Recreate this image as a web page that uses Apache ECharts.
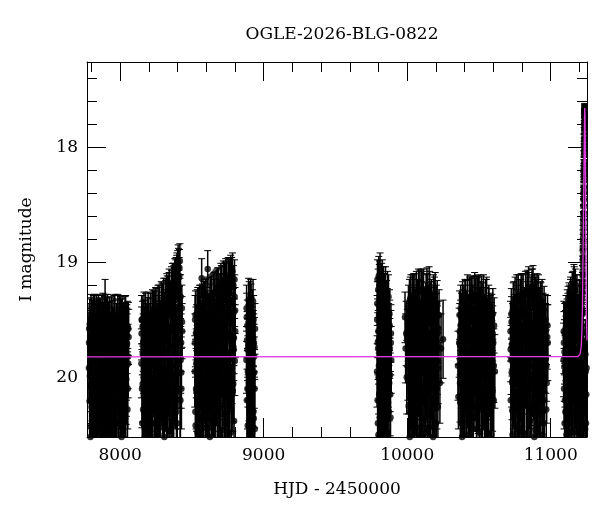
<!DOCTYPE html>
<html>
<head>
<meta charset="utf-8">
<script src="https://cdn.jsdelivr.net/npm/echarts@6/dist/echarts.min.js"></script>
<style>
  html, body { margin: 0; padding: 0; background: #fff; }
  #chart { width: 600px; height: 512px; }
</style>
</head>
<body>
<div id="chart"></div>
<script>
// Photometry, one array per observing season: [HJD-2450000, I mag, error]
const season1 = [
  [7782,19.92,0.30],[7787,20.21,0.38],[7791,19.64,0.24],[7795,20.43,0.42],[7799,19.78,0.27],[7804,20.05,0.33],
  [7808,19.55,0.22],[7812,20.32,0.40],[7817,19.86,0.29],[7821,20.58,0.45],[7826,19.70,0.25],[7830,20.12,0.35],
  [7835,19.50,0.21],[7839,19.95,0.31],[7844,20.38,0.41],[7848,19.61,0.23],[7853,20.02,0.32],[7857,19.83,0.28],
  [7862,20.49,0.44],[7866,19.58,0.22],[7871,20.18,0.37],[7875,19.74,0.26],[7880,19.47,0.20],[7884,20.27,0.39],
  [7889,19.90,0.30],[7893,20.62,0.46],[7895,19.46,0.31],[7898,19.66,0.24],[7902,20.08,0.34],[7907,19.52,0.21],
  [7911,19.98,0.31],[7916,20.35,0.41],[7920,19.73,0.26],[7925,20.15,0.36],[7929,19.56,0.22],[7934,20.45,0.43],
  [7938,19.88,0.29],[7943,19.62,0.23],[7947,20.24,0.38],[7952,19.80,0.28],[7956,20.55,0.45],[7961,19.53,0.21],
  [7965,20.04,0.33],[7970,19.69,0.25],[7974,20.30,0.40],[7979,19.94,0.30],[7983,19.59,0.23],[7988,20.40,0.42],
  [7992,19.76,0.27],[7997,20.10,0.35],[8001,19.51,0.21],[8006,19.85,0.29],[8010,20.52,0.44],[8015,19.67,0.24],
  [8019,20.20,0.37],[8024,19.57,0.22],[8028,19.97,0.31],[8033,20.36,0.41],[8037,19.72,0.26],[8042,20.07,0.34],
  [8046,19.60,0.23],[8051,20.28,0.39],[8055,19.82,0.28],[8059,19.65,0.24],
  [7784,19.58,0.22],[7789,19.99,0.31],[7793,20.52,0.44],[7797,19.49,0.21],[7801,20.26,0.38],[7806,19.81,0.28],
  [7810,20.64,0.46],[7814,19.63,0.24],[7819,20.09,0.34],[7823,19.48,0.20],[7828,20.40,0.42],[7832,19.77,0.27],
  [7837,20.18,0.37],[7841,19.54,0.22],[7846,20.57,0.45],[7850,19.89,0.30],[7855,19.52,0.21],[7859,20.30,0.39],
  [7864,19.71,0.26],[7868,20.00,0.32],[7873,19.50,0.21],[7877,20.46,0.43],[7882,19.84,0.29],[7886,19.60,0.23],
  [7891,20.14,0.36],[7900,19.49,0.21],[7904,20.34,0.40],[7909,19.79,0.27],[7913,20.60,0.46],[7918,19.57,0.22],
  [7922,19.96,0.31],[7927,20.42,0.42],[7931,19.68,0.25],[7936,20.06,0.33],[7940,19.51,0.21],[7945,20.50,0.44],
  [7949,19.87,0.29],[7954,19.63,0.23],[7958,20.22,0.37],[7963,19.48,0.20],[7967,20.38,0.41],[7972,19.75,0.27],
  [7976,20.03,0.32],[7981,19.55,0.22],[7985,20.63,0.46],[7990,19.92,0.30],[7994,19.50,0.21],[7999,20.25,0.38],
  [8003,19.70,0.26],[8008,20.13,0.35],[8012,19.53,0.21],[8017,20.44,0.43],[8021,19.81,0.28],[8026,19.62,0.23],
  [8030,20.18,0.37],[8035,19.52,0.22],[8039,20.56,0.45],[8044,19.90,0.30],[8048,19.71,0.26],[8053,20.10,0.35],
  [8057,19.58,0.23],
  [7783,19.70,0.26],[7788,19.54,0.22],[7792,20.08,0.34],[7796,19.66,0.24],[7800,19.52,0.21],[7805,20.30,0.39],
  [7809,19.74,0.26],[7813,19.50,0.21],[7818,19.94,0.31],[7822,19.60,0.23],[7827,20.20,0.37],[7831,19.56,0.22],
  [7836,19.82,0.28],[7840,20.44,0.42],[7845,19.62,0.23],[7849,19.49,0.21],[7854,20.12,0.35],[7858,19.68,0.25],
  [7863,19.53,0.21],[7867,19.92,0.30],[7872,20.36,0.41],[7876,19.57,0.22],[7881,19.76,0.27],[7885,20.04,0.33],
  [7890,19.51,0.21],[7894,19.72,0.26],[7899,20.26,0.38],[7903,19.60,0.23],[7908,19.86,0.29],[7912,19.48,0.20],
  [7917,20.14,0.36],[7921,19.64,0.24],[7926,19.52,0.21],[7930,20.00,0.32],[7935,19.70,0.25],[7939,20.48,0.43],
  [7944,19.55,0.22],[7948,19.78,0.27],[7953,20.18,0.37],[7957,19.50,0.21],[7962,19.66,0.24],[7966,19.96,0.31],
  [7971,20.40,0.42],[7975,19.58,0.22],[7980,19.82,0.28],[7984,19.49,0.21],[7989,20.06,0.33],[7993,19.62,0.23],
  [7998,19.74,0.26],[8002,20.32,0.40],[8007,19.54,0.22],[8011,19.90,0.30],[8016,19.52,0.21],[8020,19.68,0.25],
  [8025,20.16,0.36],[8029,19.58,0.22],[8034,19.80,0.28],[8038,19.50,0.21],[8043,20.02,0.32],[8047,19.64,0.24],
  [8052,19.56,0.22],[8056,19.88,0.30]
];
const season2 = [
  [8148,19.88,0.30],[8152,20.10,0.34],[8156,19.56,0.22],[8160,20.28,0.38],[8164,19.74,0.26],[8168,19.99,0.31],
  [8172,20.45,0.42],[8176,19.62,0.23],[8180,20.15,0.36],[8185,19.83,0.28],[8189,20.58,0.45],[8193,19.52,0.21],
  [8197,20.05,0.33],[8201,19.70,0.25],[8206,20.36,0.40],[8210,19.91,0.30],[8214,19.48,0.21],[8219,20.22,0.37],
  [8223,19.66,0.24],[8227,20.62,0.46],[8232,19.80,0.28],[8236,20.02,0.32],[8240,19.45,0.20],[8245,20.40,0.41],
  [8249,19.72,0.26],[8253,20.12,0.35],[8258,19.58,0.22],[8262,19.95,0.31],[8266,20.50,0.44],[8271,19.42,0.20],
  [8275,19.86,0.29],[8279,20.25,0.38],[8284,19.63,0.23],[8288,20.08,0.34],[8292,19.38,0.19],[8297,20.55,0.45],
  [8301,19.77,0.27],[8305,20.18,0.36],[8310,19.50,0.21],[8314,19.93,0.30],[8318,19.35,0.19],[8323,20.32,0.40],
  [8327,19.68,0.25],[8331,20.04,0.33],[8336,19.30,0.18],[8340,20.60,0.46],[8344,19.84,0.29],[8349,19.45,0.20],
  [8353,20.14,0.35],[8357,19.25,0.18],[8362,19.97,0.31],[8366,20.42,0.42],[8370,19.60,0.23],[8375,19.20,0.17],
  [8379,20.06,0.33],[8383,19.74,0.26],[8388,19.15,0.17],[8392,20.30,0.39],[8396,19.08,0.16],[8400,19.88,0.30],
  [8404,19.00,0.15],[8408,19.55,0.22],[8412,19.12,0.16],[8416,18.99,0.15],[8420,20.20,0.37],[8425,19.70,0.25],
  [8430,19.40,0.20],
  [8150,19.50,0.21],[8154,20.40,0.42],[8158,19.80,0.28],[8162,20.60,0.46],[8166,19.47,0.21],[8170,20.16,0.36],
  [8174,19.90,0.30],[8178,19.55,0.22],[8183,20.33,0.40],[8187,19.66,0.24],[8191,20.04,0.33],[8195,19.46,0.20],
  [8199,20.48,0.43],[8203,19.85,0.29],[8208,19.58,0.22],[8212,20.20,0.37],[8216,19.75,0.27],[8221,20.55,0.45],
  [8225,19.44,0.20],[8229,20.00,0.32],[8234,19.64,0.24],[8238,20.28,0.39],[8243,19.90,0.30],[8247,19.42,0.20],
  [8251,20.62,0.46],[8256,19.70,0.26],[8260,20.10,0.35],[8264,19.40,0.20],[8269,19.82,0.28],[8273,20.44,0.43],
  [8277,19.56,0.22],[8282,20.06,0.33],[8286,19.36,0.19],[8290,19.94,0.31],[8295,20.30,0.39],[8299,19.62,0.23],
  [8303,19.33,0.19],[8308,20.52,0.44],[8312,19.76,0.27],[8316,20.12,0.35],[8321,19.45,0.21],[8325,19.28,0.18],
  [8329,20.26,0.38],[8334,19.66,0.24],[8338,20.00,0.32],[8342,19.24,0.18],[8347,20.46,0.43],[8351,19.72,0.26],
  [8355,19.40,0.20],[8360,20.18,0.37],[8364,19.18,0.17],[8368,19.90,0.30],[8373,20.58,0.45],[8377,19.50,0.21],
  [8381,19.14,0.17],[8386,20.10,0.35],[8390,19.62,0.23],[8394,19.10,0.16],[8398,20.40,0.42],[8402,19.80,0.28],
  [8406,19.04,0.16],[8410,19.96,0.31],[8414,19.30,0.19],[8418,20.55,0.45],[8422,19.85,0.29],[8427,20.10,0.35],
  [8432,19.60,0.24],
  [8149,19.62,0.23],[8153,19.50,0.21],[8157,20.06,0.33],[8161,19.70,0.25],[8165,19.55,0.22],[8169,20.30,0.39],
  [8173,19.64,0.24],[8177,19.48,0.21],[8182,19.96,0.31],[8186,19.58,0.22],[8190,19.74,0.26],[8194,20.20,0.37],
  [8198,19.52,0.21],[8202,19.66,0.24],[8207,20.00,0.32],[8211,19.47,0.20],[8215,19.62,0.23],[8220,19.88,0.30],
  [8224,20.40,0.42],[8228,19.54,0.22],[8233,19.45,0.20],[8237,19.72,0.26],[8241,20.14,0.36],[8246,19.56,0.22],
  [8250,19.43,0.20],[8254,19.84,0.29],[8259,19.66,0.24],[8263,20.24,0.38],[8267,19.50,0.21],[8272,19.40,0.20],
  [8276,19.76,0.27],[8280,19.58,0.22],[8285,20.04,0.33],[8289,19.46,0.20],[8293,19.37,0.19],[8298,19.70,0.25],
  [8302,19.52,0.21],[8306,20.36,0.40],[8311,19.60,0.23],[8315,19.33,0.19],[8319,19.80,0.28],[8324,19.48,0.21],
  [8328,19.30,0.18],[8332,19.92,0.30],[8337,19.56,0.22],[8341,19.27,0.18],[8345,20.16,0.36],[8350,19.62,0.23],
  [8354,19.36,0.19],[8358,19.22,0.18],[8363,19.74,0.26],[8367,19.46,0.21],[8371,19.18,0.17],[8376,20.00,0.32],
  [8380,19.56,0.22],[8384,19.30,0.19],[8389,19.13,0.17],[8393,19.66,0.24],[8397,19.40,0.20],[8401,19.06,0.16],
  [8405,19.84,0.29],[8409,19.25,0.18],[8413,19.05,0.16],[8417,19.50,0.21],[8421,19.30,0.19],[8426,19.96,0.31],
  [8431,19.52,0.22]
];
const season3 = [
  [8520,19.95,0.31],[8524,20.30,0.39],[8528,19.62,0.23],[8532,20.12,0.35],[8536,19.45,0.21],[8540,20.48,0.43],
  [8544,19.78,0.27],[8549,20.05,0.33],[8553,19.40,0.20],[8557,20.60,0.46],[8561,19.70,0.25],[8565,19.90,0.30],
  [8568,19.14,0.17],[8572,20.22,0.37],[8576,19.55,0.22],[8580,20.38,0.41],[8585,19.83,0.28],[8589,19.36,0.19],
  [8593,20.15,0.36],[8597,19.66,0.24],[8601,20.55,0.45],[8605,19.98,0.31],[8610,19.06,0.16],[8614,19.48,0.21],
  [8618,20.26,0.38],[8622,19.74,0.26],[8627,19.32,0.19],[8631,20.08,0.34],[8635,19.58,0.22],[8639,20.44,0.42],
  [8643,19.86,0.29],[8648,19.28,0.18],[8652,20.18,0.36],[8656,19.64,0.24],[8660,20.62,0.46],[8664,19.92,0.30],
  [8669,19.25,0.18],[8673,19.50,0.21],[8677,20.34,0.40],[8681,19.80,0.28],[8686,19.22,0.17],[8690,20.02,0.32],
  [8694,19.60,0.23],[8698,20.50,0.44],[8702,19.18,0.17],[8707,19.88,0.30],[8711,20.24,0.38],[8715,19.44,0.20],
  [8719,19.16,0.17],[8724,20.10,0.35],[8728,19.70,0.25],[8732,20.40,0.42],[8736,19.14,0.17],[8741,19.84,0.29],
  [8745,19.35,0.19],[8749,20.16,0.36],[8753,19.12,0.16],[8758,20.56,0.45],[8762,19.62,0.23],[8766,19.96,0.31],
  [8770,19.10,0.16],[8775,20.28,0.39],[8779,19.52,0.21],[8783,19.08,0.16],[8788,20.06,0.33],[8792,19.76,0.27],
  [8797,19.15,0.17],[8801,19.42,0.20],
  [8522,19.50,0.21],[8526,20.42,0.42],[8530,19.88,0.30],[8534,20.60,0.46],[8538,19.70,0.25],[8542,20.18,0.37],
  [8546,19.42,0.20],[8551,20.34,0.40],[8555,19.92,0.30],[8559,19.58,0.22],[8563,20.50,0.44],[8567,19.80,0.28],
  [8570,20.08,0.34],[8574,19.38,0.19],[8578,20.62,0.46],[8582,19.64,0.24],[8587,20.02,0.32],[8591,19.88,0.30],
  [8595,20.44,0.43],[8599,19.33,0.19],[8603,20.20,0.37],[8607,19.72,0.26],[8612,20.36,0.40],[8616,19.56,0.22],
  [8620,19.96,0.31],[8625,20.52,0.44],[8629,19.30,0.18],[8633,19.82,0.28],[8637,20.14,0.36],[8641,19.50,0.21],
  [8646,20.58,0.45],[8650,19.76,0.27],[8654,19.27,0.18],[8658,20.04,0.33],[8662,20.40,0.42],[8667,19.60,0.23],
  [8671,19.94,0.31],[8675,19.24,0.18],[8679,20.60,0.46],[8684,19.72,0.26],[8688,20.28,0.39],[8692,19.40,0.20],
  [8696,19.86,0.29],[8700,20.16,0.36],[8705,19.20,0.17],[8709,19.64,0.24],[8713,20.46,0.43],[8717,19.90,0.30],
  [8721,19.52,0.21],[8726,20.32,0.40],[8730,19.17,0.17],[8734,19.78,0.27],[8739,20.54,0.45],[8743,19.46,0.21],
  [8747,20.00,0.32],[8751,19.66,0.24],[8756,19.15,0.17],[8760,20.22,0.37],[8764,19.84,0.29],[8768,19.36,0.19],
  [8773,20.48,0.44],[8777,19.12,0.16],[8781,19.70,0.26],[8785,20.12,0.35],[8790,19.44,0.21],[8794,20.38,0.41],
  [8799,19.86,0.30],
  [8521,19.70,0.25],[8525,19.46,0.21],[8529,20.10,0.35],[8533,19.60,0.23],[8537,19.84,0.29],[8541,19.42,0.20],
  [8545,20.26,0.38],[8550,19.66,0.24],[8554,19.52,0.21],[8558,19.94,0.31],[8562,19.40,0.20],[8566,19.62,0.23],
  [8569,20.16,0.36],[8573,19.48,0.21],[8577,19.76,0.27],[8581,19.36,0.19],[8586,20.06,0.33],[8590,19.56,0.22],
  [8594,19.34,0.19],[8598,19.80,0.28],[8602,19.46,0.21],[8606,20.30,0.39],[8611,19.32,0.19],[8615,19.68,0.25],
  [8619,19.50,0.21],[8623,20.00,0.32],[8628,19.38,0.19],[8632,19.62,0.23],[8636,19.29,0.18],[8640,19.90,0.30],
  [8644,19.54,0.22],[8649,20.22,0.37],[8653,19.34,0.19],[8657,19.72,0.26],[8661,19.26,0.18],[8665,19.58,0.22],
  [8670,20.08,0.34],[8674,19.44,0.20],[8678,19.23,0.18],[8682,19.66,0.24],[8687,19.40,0.20],[8691,20.12,0.35],
  [8695,19.28,0.18],[8699,19.54,0.22],[8703,19.82,0.28],[8708,19.21,0.17],[8712,19.46,0.21],[8716,20.04,0.33],
  [8720,19.30,0.19],[8725,19.60,0.23],[8729,19.18,0.17],[8733,19.90,0.30],[8737,19.40,0.20],[8742,19.16,0.17],
  [8746,19.66,0.24],[8750,19.32,0.19],[8754,20.18,0.37],[8759,19.50,0.21],[8763,19.14,0.17],[8767,19.78,0.27],
  [8771,19.34,0.19],[8776,19.12,0.16],[8780,19.92,0.31],[8784,19.48,0.21],[8789,19.20,0.17],[8793,19.66,0.24],
  [8798,19.30,0.19],[8802,19.60,0.23]
];
const season4 = [
  [8880,19.85,0.29],[8883,20.20,0.37],[8886,19.55,0.22],[8889,20.42,0.42],[8892,19.72,0.26],[8895,19.33,0.19],
  [8898,20.05,0.33],[8901,19.62,0.23],[8904,20.30,0.39],[8907,19.90,0.30],[8910,19.31,0.16],[8913,20.14,0.35],
  [8916,19.78,0.27],[8919,20.48,0.43],[8922,19.45,0.21],[8925,19.98,0.31],[8928,19.66,0.24],[8931,20.36,0.40],
  [8934,19.82,0.28],[8937,20.10,0.34],[8940,19.58,0.22],
  [8881,19.40,0.20],[8884,19.68,0.25],[8887,20.10,0.35],[8890,19.95,0.31],[8893,20.55,0.45],[8896,19.60,0.23],
  [8899,19.36,0.19],[8902,20.25,0.38],[8905,19.74,0.26],[8908,20.40,0.42],[8911,19.52,0.21],[8914,19.88,0.30],
  [8917,20.18,0.36],[8920,19.62,0.23],[8923,20.02,0.32],[8926,19.34,0.19],[8929,20.30,0.39],[8932,19.70,0.25],
  [8935,19.96,0.31],[8938,20.45,0.43],
  [8882,19.48,0.21],[8888,19.76,0.27],[8894,20.20,0.37],[8900,19.56,0.22],[8906,19.90,0.30],[8912,19.38,0.19],
  [8918,19.68,0.25],[8924,20.08,0.34],[8930,19.50,0.21],[8936,19.74,0.26]
];
const season5 = [
  [9790,19.95,0.31],[9793,19.15,0.17],[9796,20.40,0.42],[9799,19.60,0.23],[9802,19.12,0.17],[9805,20.15,0.36],
  [9808,19.40,0.20],[9811,19.10,0.18],[9814,19.80,0.28],[9817,20.55,0.45],[9820,19.30,0.19],[9823,20.02,0.32],
  [9826,19.52,0.21],[9829,20.28,0.39],[9832,19.70,0.25],[9835,19.22,0.18],[9838,20.45,0.43],[9841,19.88,0.30],
  [9844,19.45,0.20],[9847,20.10,0.34],[9850,19.65,0.24],[9853,20.60,0.46],[9856,19.35,0.19],[9859,19.92,0.30],
  [9863,19.26,0.18],[9867,20.22,0.37],[9871,19.58,0.22],[9875,20.05,0.33],[9879,19.75,0.26],[9884,20.35,0.40],
  [9889,19.85,0.29],
  [9791,19.50,0.21],[9794,20.20,0.37],[9797,19.75,0.27],[9800,20.50,0.44],[9803,19.90,0.30],[9806,19.20,0.18],
  [9809,20.35,0.40],[9812,19.62,0.23],[9815,20.05,0.33],[9818,19.42,0.20],[9821,20.62,0.46],[9824,19.78,0.27],
  [9827,19.15,0.17],[9830,20.12,0.35],[9833,19.55,0.22],[9836,20.42,0.42],[9839,19.68,0.25],[9842,19.28,0.18],
  [9845,20.25,0.38],[9848,19.85,0.29],[9851,19.48,0.21],[9854,20.15,0.36],[9857,19.72,0.26],[9861,20.48,0.44],
  [9865,19.60,0.23],[9869,19.95,0.31],[9873,20.30,0.40],[9877,19.45,0.21],[9881,19.98,0.32],[9886,19.70,0.28],
  [9792,19.36,0.19],[9795,19.70,0.26],[9798,19.24,0.18],[9801,20.00,0.32],[9804,19.46,0.21],[9807,19.16,0.17],
  [9810,19.84,0.29],[9813,19.32,0.19],[9816,19.58,0.22],[9819,20.20,0.37],[9822,19.18,0.17],[9825,19.66,0.24],
  [9828,19.40,0.20],[9831,19.92,0.30],[9834,19.28,0.18],[9837,19.56,0.22],[9840,20.10,0.35],[9843,19.36,0.19],
  [9846,19.74,0.27],[9849,19.22,0.18],[9852,19.90,0.30],[9855,19.50,0.21],[9858,20.30,0.39],[9862,19.44,0.21],
  [9866,19.70,0.26],[9870,19.30,0.19],[9874,19.86,0.30],[9878,19.55,0.22],[9882,20.15,0.36],[9887,19.62,0.25]
];
const season6 = [
  [9985,19.48,0.22],[9989,19.75,0.30],[9993,19.62,0.28],[9997,20.00,0.32],[10001,19.66,0.25],[10005,19.90,0.30],
  [10010,20.25,0.38],[10014,19.58,0.22],[10018,20.52,0.44],[10022,19.80,0.28],[10026,19.30,0.19],[10030,20.08,0.34],
  [10034,19.68,0.24],[10039,20.38,0.41],[10043,19.95,0.31],[10047,19.42,0.20],[10051,20.60,0.46],[10055,19.72,0.26],
  [10060,20.15,0.36],[10064,19.26,0.18],[10068,19.88,0.29],[10072,20.44,0.42],[10077,19.55,0.22],[10081,20.02,0.32],
  [10085,19.35,0.19],[10089,20.30,0.39],[10094,19.78,0.27],[10098,19.24,0.18],[10102,20.12,0.35],[10106,19.62,0.23],
  [10111,20.56,0.45],[10115,19.90,0.30],[10119,19.45,0.20],[10123,20.22,0.37],[10128,19.70,0.25],[10132,19.28,0.18],
  [10136,20.06,0.33],[10140,20.48,0.43],[10145,19.52,0.21],[10149,19.84,0.29],[10153,19.22,0.18],[10158,20.34,0.40],
  [10162,19.66,0.24],[10166,20.10,0.34],[10170,19.40,0.20],[10175,20.62,0.46],[10179,19.76,0.27],[10183,19.30,0.19],
  [10188,20.18,0.36],[10192,19.58,0.22],[10196,19.98,0.31],[10201,20.40,0.42],[10205,19.48,0.21],[10210,19.86,0.29],
  [10214,20.26,0.38],[10222,19.46,0.22],[10228,20.05,0.35],[10236,19.75,0.30],[10250,19.67,0.34],
  [10008,19.62,0.24],[10012,20.00,0.32],[10016,19.34,0.19],[10020,20.30,0.39],[10024,19.92,0.30],[10028,20.58,0.45],
  [10032,19.50,0.21],[10036,20.16,0.36],[10041,19.74,0.26],[10045,19.28,0.18],[10049,20.42,0.42],[10053,19.86,0.29],
  [10057,19.56,0.22],[10062,20.08,0.34],[10066,20.62,0.46],[10070,19.40,0.20],[10075,19.96,0.31],[10079,19.24,0.18],
  [10083,20.26,0.38],[10087,19.68,0.25],[10092,20.50,0.44],[10096,19.82,0.28],[10100,19.46,0.21],[10104,20.20,0.37],
  [10109,19.26,0.18],[10113,19.72,0.26],[10117,20.36,0.40],[10121,19.94,0.31],[10126,19.52,0.21],[10130,20.56,0.45],
  [10134,19.80,0.28],[10138,19.23,0.18],[10143,20.14,0.36],[10147,19.64,0.24],[10151,20.44,0.43],[10156,19.90,0.30],
  [10160,19.36,0.19],[10164,20.28,0.39],[10168,19.74,0.26],[10173,20.04,0.33],[10177,19.50,0.21],[10181,20.52,0.44],
  [10186,19.84,0.29],[10190,19.32,0.19],[10194,20.22,0.37],[10199,19.70,0.25],[10203,19.40,0.20],[10207,20.10,0.35],
  [10212,19.62,0.24],[10216,19.92,0.31],
  [10009,19.40,0.20],[10013,19.78,0.27],[10017,19.60,0.23],[10021,19.32,0.19],[10025,20.10,0.35],[10029,19.54,0.22],
  [10033,19.86,0.29],[10037,19.30,0.19],[10042,19.66,0.24],[10046,20.20,0.37],[10050,19.44,0.20],[10054,19.28,0.18],
  [10058,19.76,0.27],[10063,19.52,0.21],[10067,20.04,0.33],[10071,19.34,0.19],[10076,19.64,0.24],[10080,19.46,0.21],
  [10084,19.90,0.30],[10088,19.25,0.18],[10093,19.58,0.22],[10097,20.16,0.36],[10101,19.36,0.19],[10105,19.72,0.26],
  [10110,19.48,0.21],[10114,19.24,0.18],[10118,19.82,0.28],[10122,19.56,0.22],[10127,20.08,0.34],[10131,19.38,0.20],
  [10135,19.62,0.23],[10139,19.30,0.19],[10144,19.94,0.31],[10148,19.46,0.21],[10152,19.70,0.26],[10157,19.26,0.18],
  [10161,20.00,0.32],[10165,19.54,0.22],[10169,19.34,0.19],[10174,19.80,0.28],[10178,19.60,0.23],[10182,20.24,0.38],
  [10187,19.42,0.20],[10191,19.68,0.25],[10195,19.28,0.19],[10200,19.88,0.30],[10204,19.56,0.22],[10209,19.36,0.20],
  [10213,19.74,0.27],[10218,19.58,0.24]
];
const season7 = [
  [10354,19.90,0.30],[10357,20.17,0.28],[10362,19.70,0.30],[10368,20.05,0.34],[10372,19.55,0.22],[10376,20.40,0.42],
  [10380,19.82,0.28],[10385,20.15,0.36],[10389,19.45,0.21],[10393,20.58,0.45],[10397,19.68,0.25],[10402,19.98,0.31],
  [10406,19.36,0.20],[10410,20.28,0.39],[10414,19.76,0.27],[10419,20.10,0.34],[10423,19.50,0.21],[10427,20.50,0.44],
  [10431,19.88,0.30],[10436,19.32,0.19],[10440,20.20,0.37],[10444,19.62,0.23],[10449,20.62,0.46],[10453,19.94,0.31],
  [10457,19.40,0.20],[10461,20.34,0.40],[10466,19.72,0.26],[10470,19.28,0.19],[10474,20.04,0.33],[10478,19.58,0.22],
  [10483,20.45,0.43],[10487,19.84,0.29],[10491,19.30,0.18],[10495,20.14,0.35],[10500,19.66,0.24],[10504,20.55,0.45],
  [10508,19.42,0.20],[10512,19.96,0.31],[10517,19.31,0.19],[10521,20.24,0.38],[10525,19.74,0.26],[10529,20.08,0.34],
  [10534,19.52,0.21],[10538,20.38,0.41],[10542,19.86,0.29],[10546,19.35,0.20],[10551,20.18,0.36],[10555,19.64,0.24],
  [10559,20.48,0.44],[10563,19.90,0.30],[10568,19.44,0.21],[10572,20.02,0.32],[10576,19.60,0.23],[10581,20.30,0.39],
  [10585,19.78,0.27],[10590,19.50,0.22],[10595,20.12,0.35],[10600,19.70,0.26],[10606,19.55,0.24],[10611,19.95,0.32],
  [10366,19.60,0.24],[10370,20.22,0.37],[10374,19.88,0.30],[10378,19.48,0.21],[10383,20.52,0.44],[10387,19.74,0.27],
  [10391,20.06,0.33],[10395,19.40,0.20],[10400,20.30,0.39],[10404,19.92,0.30],[10408,19.56,0.22],[10412,20.60,0.46],
  [10417,19.66,0.24],[10421,19.34,0.19],[10425,20.16,0.36],[10429,19.80,0.28],[10434,20.42,0.42],[10438,19.50,0.21],
  [10442,19.98,0.31],[10446,19.30,0.18],[10451,20.26,0.38],[10455,19.70,0.26],[10459,20.56,0.45],[10464,19.86,0.29],
  [10468,19.52,0.21],[10472,20.12,0.35],[10476,19.33,0.19],[10481,19.76,0.27],[10485,20.36,0.40],[10489,19.62,0.23],
  [10493,19.96,0.31],[10498,19.29,0.18],[10502,20.48,0.44],[10506,19.80,0.28],[10510,19.45,0.21],[10515,20.20,0.37],
  [10519,19.68,0.25],[10523,20.60,0.46],[10527,19.38,0.20],[10532,19.90,0.30],[10536,20.10,0.35],[10540,19.58,0.22],
  [10544,20.44,0.43],[10549,19.78,0.27],[10553,19.32,0.19],[10557,20.04,0.33],[10561,19.62,0.23],[10566,20.32,0.40],
  [10570,19.84,0.29],[10574,19.48,0.21],[10579,20.16,0.36],[10583,19.66,0.24],[10587,20.50,0.44],[10592,19.88,0.30],
  [10597,19.45,0.22],[10603,20.20,0.38],
  [10365,19.46,0.21],[10369,19.72,0.26],[10373,19.40,0.20],[10377,19.96,0.31],[10381,19.60,0.23],[10386,19.36,0.19],
  [10390,20.18,0.37],[10394,19.54,0.22],[10398,19.82,0.28],[10403,19.34,0.19],[10407,19.66,0.24],[10411,20.06,0.33],
  [10415,19.46,0.21],[10420,19.30,0.19],[10424,19.78,0.27],[10428,19.58,0.22],[10433,20.24,0.38],[10437,19.40,0.20],
  [10441,19.68,0.25],[10445,19.33,0.19],[10450,19.90,0.30],[10454,19.52,0.21],[10458,19.30,0.18],[10463,20.02,0.32],
  [10467,19.62,0.23],[10471,19.42,0.20],[10475,19.84,0.29],[10480,19.31,0.19],[10484,19.56,0.22],[10488,20.12,0.35],
  [10492,19.44,0.21],[10497,19.70,0.26],[10501,19.32,0.19],[10505,19.94,0.31],[10509,19.60,0.23],[10514,19.36,0.19],
  [10518,20.28,0.39],[10522,19.50,0.21],[10526,19.76,0.27],[10531,19.30,0.19],[10535,19.64,0.24],[10539,20.00,0.32],
  [10543,19.42,0.20],[10548,19.70,0.26],[10552,19.34,0.19],[10556,19.88,0.30],[10560,19.54,0.22],[10565,20.14,0.36],
  [10569,19.40,0.20],[10573,19.72,0.26],[10578,19.50,0.21],[10582,19.96,0.31],[10586,19.58,0.23],[10591,19.80,0.29],
  [10596,19.62,0.24],[10604,19.90,0.32]
];
const season8 = [
  [10720,19.60,0.26],[10724,19.85,0.30],[10728,19.96,0.30],[10732,20.29,0.36],[10736,19.70,0.28],[10740,20.10,0.35],
  [10745,19.50,0.22],[10749,20.42,0.42],[10753,19.78,0.27],[10757,20.02,0.32],[10762,19.40,0.20],[10766,20.56,0.45],
  [10770,19.66,0.24],[10775,20.16,0.36],[10779,19.34,0.19],[10783,19.92,0.30],[10787,20.32,0.40],[10792,19.58,0.22],
  [10796,20.06,0.33],[10800,19.30,0.19],[10805,20.48,0.43],[10809,19.82,0.28],[10813,19.45,0.20],[10817,20.22,0.37],
  [10822,19.68,0.25],[10826,19.28,0.18],[10830,20.60,0.46],[10835,19.88,0.30],[10839,19.52,0.21],[10843,20.12,0.35],
  [10847,19.27,0.18],[10852,19.98,0.31],[10856,20.38,0.41],[10860,19.62,0.23],[10865,19.30,0.19],[10869,20.26,0.38],
  [10873,19.76,0.27],[10877,19.20,0.17],[10882,20.04,0.33],[10886,20.52,0.44],[10890,19.56,0.22],[10895,19.32,0.19],
  [10899,20.18,0.36],[10903,19.72,0.26],[10907,20.44,0.42],[10912,19.42,0.20],[10916,19.94,0.31],[10920,20.30,0.39],
  [10924,19.64,0.24],[10929,19.36,0.19],[10933,20.08,0.34],[10937,19.80,0.28],[10942,20.50,0.44],[10946,19.48,0.21],
  [10950,19.90,0.30],[10955,20.20,0.37],[10960,19.60,0.24],[10966,19.84,0.30],[10972,20.05,0.35],[10980,19.70,0.33],
  [10722,20.20,0.37],[10726,19.45,0.22],[10730,19.72,0.27],[10734,20.50,0.44],[10738,19.88,0.30],[10743,19.36,0.19],
  [10747,20.12,0.35],[10751,19.62,0.23],[10755,20.60,0.46],[10760,19.80,0.28],[10764,19.30,0.19],[10768,20.28,0.39],
  [10772,19.92,0.30],[10777,19.54,0.22],[10781,20.44,0.43],[10785,19.70,0.26],[10790,20.04,0.33],[10794,19.28,0.18],
  [10798,20.36,0.40],[10803,19.84,0.29],[10807,19.58,0.22],[10811,20.18,0.37],[10815,20.56,0.45],[10820,19.44,0.20],
  [10824,19.96,0.31],[10828,19.66,0.24],[10833,20.24,0.38],[10837,19.25,0.18],[10841,20.50,0.44],[10845,19.78,0.27],
  [10850,19.40,0.20],[10854,20.10,0.35],[10858,19.86,0.29],[10863,20.62,0.46],[10867,19.52,0.21],[10871,19.24,0.18],
  [10875,20.02,0.32],[10880,19.70,0.26],[10884,20.32,0.40],[10888,19.34,0.19],[10893,19.90,0.30],[10897,20.46,0.43],
  [10901,19.60,0.23],[10905,19.28,0.18],[10910,20.14,0.36],[10914,19.76,0.27],[10918,20.54,0.45],[10922,19.46,0.21],
  [10927,19.88,0.30],[10931,20.22,0.37],[10935,19.56,0.22],[10940,19.34,0.19],[10944,20.06,0.33],[10948,19.72,0.26],
  [10953,20.40,0.42],[10958,19.84,0.29],[10963,19.50,0.22],[10969,20.28,0.39],[10976,19.65,0.28],
  [10721,19.76,0.28],[10727,19.52,0.22],[10731,20.04,0.33],[10735,19.60,0.24],[10739,19.38,0.20],[10744,19.86,0.29],
  [10748,19.56,0.22],[10752,19.32,0.19],[10756,20.14,0.36],[10761,19.66,0.24],[10765,19.44,0.20],[10769,19.94,0.31],
  [10774,19.30,0.19],[10778,19.72,0.26],[10782,20.26,0.38],[10786,19.48,0.21],[10791,19.34,0.19],[10795,19.80,0.28],
  [10799,19.58,0.22],[10804,20.00,0.32],[10808,19.28,0.18],[10812,19.64,0.24],[10816,19.42,0.20],[10821,19.92,0.30],
  [10825,19.26,0.18],[10829,19.70,0.26],[10834,20.16,0.36],[10838,19.36,0.19],[10842,19.56,0.22],[10846,19.22,0.18],
  [10851,19.84,0.29],[10855,19.46,0.21],[10859,20.08,0.34],[10864,19.32,0.19],[10868,19.62,0.23],[10872,19.24,0.18],
  [10876,19.90,0.30],[10881,19.40,0.20],[10885,19.74,0.27],[10889,19.30,0.19],[10894,20.20,0.37],[10898,19.52,0.21],
  [10902,19.34,0.19],[10906,19.78,0.28],[10911,19.58,0.22],[10915,19.30,0.19],[10919,20.02,0.32],[10923,19.44,0.21],
  [10928,19.68,0.25],[10932,19.38,0.20],[10936,19.92,0.30],[10941,19.56,0.22],[10945,20.30,0.39],[10949,19.64,0.24],
  [10954,19.42,0.21],[10959,19.76,0.27],[10964,19.60,0.24],[10970,19.90,0.31],[10978,19.55,0.26]
];
const season9 = [
  [11090,19.85,0.32],[11093,20.10,0.35],[11095,19.91,0.30],[11098,19.62,0.26],[11102,20.30,0.40],[11106,19.75,0.28],
  [11110,20.50,0.44],[11114,19.55,0.23],[11118,20.02,0.33],[11122,19.42,0.21],[11126,20.22,0.38],[11130,19.68,0.25],
  [11134,20.40,0.42],[11138,19.35,0.20],[11142,19.92,0.31],[11146,20.60,0.46],[11150,19.28,0.19],[11154,20.12,0.35],
  [11158,19.58,0.22],[11162,19.20,0.18],[11166,20.34,0.40],[11170,19.80,0.28],[11174,19.30,0.19],[11178,20.06,0.33],
  [11182,20.48,0.44],[11186,19.50,0.21],[11190,19.88,0.30],[11194,20.26,0.39],[11198,19.62,0.23],[11202,20.15,0.36],
  [11206,19.72,0.26],[11210,20.40,0.42],[11214,19.60,0.24],[11218,20.05,0.34],[11222,19.45,0.22],
  [11228,19.90,0.32],[11232,20.25,0.40],[11240,20.45,0.44],[11244,19.95,0.33],[11248,20.15,0.38],
  [11092,19.70,0.27],[11097,20.40,0.42],[11100,19.95,0.31],[11104,19.58,0.23],[11108,20.18,0.37],[11112,19.82,0.28],
  [11116,20.56,0.45],[11120,19.48,0.21],[11124,19.92,0.30],[11128,20.30,0.39],[11132,19.40,0.20],[11136,20.04,0.33],
  [11140,19.62,0.23],[11144,20.48,0.43],[11148,19.76,0.27],[11152,19.36,0.19],[11156,20.22,0.37],[11160,19.88,0.30],
  [11164,19.22,0.18],[11168,20.56,0.45],[11172,19.56,0.22],[11176,19.96,0.31],[11180,19.34,0.19],[11184,20.14,0.35],
  [11188,19.68,0.25],[11192,20.40,0.42],[11196,19.78,0.27],[11200,19.40,0.21],[11204,20.28,0.39],[11208,19.86,0.29],
  [11212,20.58,0.46],[11216,19.90,0.31],[11220,20.20,0.38],[11225,19.70,0.28],[11230,20.55,0.45],[11236,20.00,0.34],
  [11242,19.80,0.30],[11246,20.40,0.42],[11250,19.92,0.33],
  [11091,19.60,0.26],[11096,19.78,0.28],[11099,20.20,0.37],[11103,19.66,0.24],[11107,19.50,0.21],[11111,19.98,0.31],
  [11115,19.44,0.20],[11119,19.70,0.26],[11123,20.14,0.36],[11127,19.38,0.20],[11131,19.56,0.22],[11135,19.86,0.29],
  [11139,19.32,0.19],[11143,20.30,0.39],[11147,19.46,0.21],[11151,19.62,0.23],[11155,19.26,0.18],[11159,19.94,0.31],
  [11163,19.40,0.20],[11167,19.68,0.25],[11171,19.24,0.18],[11175,20.10,0.35],[11179,19.50,0.21],[11183,19.30,0.19],
  [11187,19.76,0.27],[11191,19.56,0.22],[11195,20.22,0.37],[11199,19.36,0.20],[11203,19.66,0.24],[11207,19.48,0.22],
  [11211,19.94,0.31],[11215,19.42,0.21],[11223,19.80,0.29]
];
// the event itself
const peak = [
  [11219,19.55,0.12],[11220,19.32,0.10],[11221,19.44,0.11],[11222,19.18,0.09],[11223,19.27,0.10],[11224,19.03,0.08],
  [11224.6,19.11,0.08],[11225.1,18.87,0.07],[11225.7,18.96,0.07],[11226.3,18.75,0.07],[11226.8,18.82,0.06],
  [11227.5,18.62,0.06],[11228,18.70,0.06],[11228.4,18.51,0.06],[11229.1,18.58,0.05],[11229.8,18.40,0.05],
  [11230.2,18.46,0.05],[11230.7,18.29,0.05],[11231.3,18.35,0.05],[11231.9,18.18,0.04],[11232.3,18.24,0.04],
  [11232.8,18.07,0.04],[11233.2,18.13,0.04],[11233.7,17.96,0.04],[11234.1,18.02,0.04],[11234.4,17.86,0.03],
  [11234.9,17.91,0.03],[11235.3,17.77,0.03],[11235.6,17.82,0.03],[11236.1,17.70,0.03],[11236.4,17.67,0.03],
  [11236.9,17.65,0.03],[11237.4,17.69,0.03],[11238,17.74,0.03],
  [11219.5,19.62,0.12],[11220.5,19.40,0.10],[11221.5,19.25,0.10],[11222.5,19.12,0.09],[11223.5,19.08,0.08],
  [11224.3,18.98,0.08],[11225.4,18.91,0.07],[11226,18.79,0.07],[11227,18.66,0.06],[11227.8,18.57,0.06],
  [11228.8,18.45,0.05],[11229.5,18.38,0.05],[11230.5,18.26,0.05],[11231,18.21,0.05],[11231.6,18.15,0.04],
  [11232.5,18.04,0.04],[11233,17.99,0.04],[11233.5,17.93,0.04],[11234.2,17.84,0.04],[11234.7,17.80,0.03],
  [11235.1,17.74,0.03],[11235.8,17.69,0.03],[11236.6,17.66,0.03],[11237,17.67,0.03],[11237.7,17.71,0.03],
  [11238.4,17.78,0.03]
];
// model light curve
const modelT = [7769, 11190, 11205, 11212, 11217, 11221, 11224, 11227, 11230, 11233, 11235, 11237, 11239, 11241, 11243, 11246, 11249, 11253];
const modelMag = [19.824, 19.82, 19.80, 19.74, 19.62, 19.42, 19.10, 18.75, 18.42, 18.05, 17.82, 17.66, 17.72, 18.0, 18.45, 19.05, 19.45, 19.68];

const xTicks = [8000, 9000, 10000, 11000];
const yTicks = [18, 19, 20];

const font = 'DejaVu Serif';
const obs = [].concat(season1, season2, season3, season4, season5, season6, season7, season8, season9, peak);

const chart = echarts.init(document.getElementById('chart'));

const errorBars = (params, api) => {
    const t = api.value(0);
    const m = api.value(1);
    const e = api.value(2);
    const hi = api.coord([t, m - e]);
    const lo = api.coord([t, m + e]);
    const x = hi[0];
    const cap = 3.5;
    return {
        type: 'group',
        children: [
            { type: 'line', shape: { x1: x, y1: hi[1], x2: x, y2: lo[1] }, style: { stroke: '#000', lineWidth: 1.5 } },
            { type: 'line', shape: { x1: x - cap, y1: hi[1], x2: x + cap, y2: hi[1] }, style: { stroke: '#000', lineWidth: 1 } },
            { type: 'line', shape: { x1: x - cap, y1: lo[1], x2: x + cap, y2: lo[1] }, style: { stroke: '#000', lineWidth: 1 } },
        ],
    };
};

const baseX = {
    type: 'value',
    min: 7769,
    max: 11253,
    splitNumber: 3,
    axisLine: { show: true, onZero: false, lineStyle: { color: '#000', width: 1 } },
    axisTick: { show: true, inside: true, length: 19, lineStyle: { color: '#000' } },
    minorTick: { show: true, splitNumber: 5, length: 10, lineStyle: { color: '#000' } },
    splitLine: { show: false },
};
const baseY = {
    type: 'value',
    inverse: true,
    min: 17.26,
    max: 20.52,
    splitNumber: 3,
    axisLine: { show: true, onZero: false, lineStyle: { color: '#000', width: 1 } },
    axisTick: { show: true, inside: true, length: 19, lineStyle: { color: '#000' } },
    minorTick: { show: true, splitNumber: 5, length: 10, lineStyle: { color: '#000' } },
    splitLine: { show: false },
};

const option = {
    animation: false,
    backgroundColor: '#fff',
    textStyle: { fontFamily: font },
    title: {
        text: 'OGLE-2026-BLG-0822',
        left: 337,
        textAlign: 'center',
        top: 21,
        textStyle: { fontFamily: font, fontSize: 17, fontWeight: 'normal', color: '#000' },
    },
    grid: { left: 87, right: 13, top: 62, bottom: 75, containLabel: false },
    xAxis: [
        {
            ...baseX,
            position: 'bottom',
            name: 'HJD - 2450000',
            nameLocation: 'middle',
            nameGap: 44,
            nameTextStyle: { fontFamily: font, fontSize: 17, color: '#000' },
            axisLabel: {
                color: '#000', fontFamily: font, fontSize: 17, margin: 10,
                showMinLabel: false, showMaxLabel: false,
                formatter: (v) => (xTicks.includes(v) ? String(v) : ''),
            },
        },
        { ...baseX, position: 'top', axisLabel: { show: false } },
    ],
    yAxis: [
        {
            ...baseY,
            position: 'left',
            name: 'I magnitude',
            nameLocation: 'middle',
            nameGap: 52,
            nameTextStyle: { fontFamily: font, fontSize: 17, color: '#000' },
            axisLabel: {
                color: '#000', fontFamily: font, fontSize: 17, margin: 9,
                showMinLabel: false, showMaxLabel: false,
                formatter: (v) => (yTicks.includes(v) ? String(v) : ''),
            },
        },
        { ...baseY, position: 'right', axisLabel: { show: false } },
    ],
    series: [
        {
            type: 'custom',
            renderItem: errorBars,
            data: obs,
            encode: { x: 0, y: 1 },
            clip: true,
            silent: true,
            progressive: 0,
            z: 2,
        },
        {
            type: 'scatter',
            data: obs.map((d) => [d[0], d[1]]),
            symbol: 'circle',
            symbolSize: 6.5,
            itemStyle: { color: '#000' },
            clip: true,
            silent: true,
            large: false,
            progressive: 0,
            z: 3,
        },
        {
            type: 'line',
            data: modelT.map((t, i) => [t, modelMag[i]]),
            showSymbol: false,
            lineStyle: { color: '#e03ce0', width: 1.3 },
            clip: true,
            silent: true,
            z: 4,
        },
    ],
};

chart.setOption(option);
</script>
</body>
</html>
